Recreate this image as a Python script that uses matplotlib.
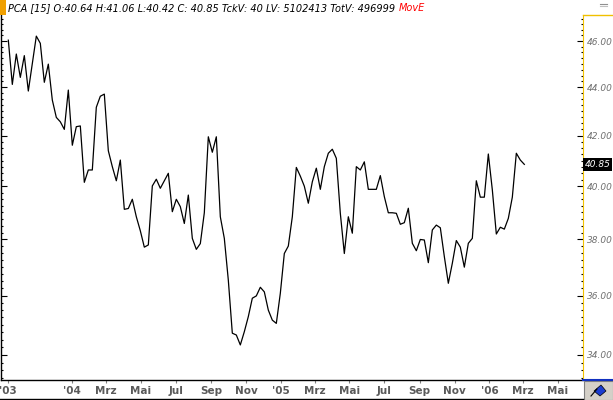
import matplotlib
matplotlib.use('Agg')
import matplotlib.pyplot as plt
from matplotlib.ticker import FixedLocator, NullFormatter
from matplotlib.patches import Rectangle, Polygon
from matplotlib.lines import Line2D
import numpy as np
import pandas as pd

# weekly closes
closes = [
    46.04, 44.12, 45.43, 44.42, 45.36, 43.84, 45.02, 46.22, 45.90, 44.21,
    44.99, 43.46, 42.74, 42.56, 42.25, 43.88, 41.61, 42.36, 42.39, 40.15,
    40.63, 40.63, 43.16, 43.62, 43.71, 41.39, 40.76, 40.21, 41.02, 39.12,
    39.15, 39.50, 38.84, 38.32, 37.72, 37.80, 40.01, 40.27, 39.92, 40.21,
    40.50, 39.03, 39.50, 39.22, 38.59, 39.66, 38.04, 37.64, 37.85, 38.99,
    41.95, 41.33, 41.95, 38.84, 38.04, 36.54, 34.72, 34.66, 34.33, 34.77,
    35.28, 35.91, 35.99, 36.29, 36.13, 35.50, 35.16, 35.05, 36.08, 37.49,
    37.76, 38.84, 40.73, 40.39, 40.00, 39.35, 40.17, 40.70, 39.88, 40.76,
    41.29, 41.45, 41.09, 38.97, 37.49, 38.84, 38.23, 40.76, 40.63, 40.95,
    39.88, 39.88, 39.88, 40.41, 39.60, 38.99, 38.99, 38.97, 38.56, 38.62,
    39.16, 37.86, 37.59, 38.00, 37.98, 37.16, 38.35, 38.53, 38.43, 37.38,
    36.43, 37.14, 37.96, 37.72, 37.00, 37.86, 38.04, 40.21, 39.58, 39.58,
    41.26, 39.86, 38.20, 38.45, 38.38, 38.78, 39.58, 41.29, 41.02, 40.85,
]
dates = pd.date_range('2003-09-12', periods=len(closes), freq='7D')

price_ticks = [34, 36, 38, 40, 42, 44, 46]
month_ticks = ['2004-01-01', '2004-03-01', '2004-05-01', '2004-07-01', '2004-09-01',
               '2004-11-01', '2005-01-01', '2005-03-01', '2005-05-01', '2005-07-01',
               '2005-09-01', '2005-11-01', '2006-01-01', '2006-03-01', '2006-05-01']
month_labels = ["'04", 'Mrz', 'Mai', 'Jul', 'Sep', 'Nov', "'05", 'Mrz', 'Mai',
                'Jul', 'Sep', 'Nov', "'06", 'Mrz', 'Mai']
first_label = "'03"
last_close = 40.85
header = 'PCA [15] O:40.64 H:41.06 L:40.42 C: 40.85 TckV: 40 LV: 5102413 TotV: 496999'
header_red = 'MovE'

W, H = 613, 400
fig = plt.figure(figsize=(W / 100, H / 100), dpi=100)
ax = fig.add_axes([1 / W, 20 / H, 581.5 / W, 365 / H])

ax.plot(dates, closes, color='black', lw=0.9)

ax.set_yscale('log')
ax.set_ylim(33.19, 47.17)
ax.set_xlim(dates[0] - pd.Timedelta(days=12.8), dates[0] + pd.Timedelta(days=1004.8))

# y axis on the right, italic grey labels
ax.yaxis.set_major_locator(FixedLocator(price_ticks))
ax.yaxis.set_minor_locator(FixedLocator(np.arange(33.25, 47.2, 0.25)))
ax.yaxis.set_minor_formatter(NullFormatter())
ax.set_yticklabels(['%.2f' % v for v in price_ticks], fontstyle='italic')
ax.tick_params(axis='y', which='both', direction='in', left=True, right=True,
               labelleft=False, labelright=True, labelsize=6.5,
               labelcolor='#707070', pad=3, width=0.8)
ax.tick_params(axis='y', which='major', length=4)
ax.tick_params(axis='y', which='minor', length=1.5)

# x axis: month labels
tick_pos = [dates[0]] + list(pd.to_datetime(month_ticks))
ax.set_xticks(tick_pos)
ax.set_xticklabels([first_label] + month_labels, fontweight='bold')
ax.tick_params(axis='x', direction='out', length=2, pad=2, labelsize=7.5,
               labelcolor='#5a5a5a', color='#808080', width=0.8)

ax.spines['top'].set_visible(False)
ax.spines['right'].set_color('#f0c000')
ax.spines['left'].set_linewidth(1)
ax.spines['bottom'].set_linewidth(1)

# last price box
ax.text(1 + 2 / 581.5, last_close, '%.2f' % last_close, transform=ax.get_yaxis_transform(),
        ha='left', va='center', fontsize=6.5, fontstyle='italic', color='white',
        bbox=dict(boxstyle='square,pad=0.2', fc='black', ec='none'))

# frame pieces around the label column and strip
fig.add_artist(Line2D([582.5 / W, 1], [1 - 15 / H] * 2, color='#f0c000', lw=1))
fig.add_artist(Line2D([583 / W, 1], [20 / H] * 2, color='#1030c0', lw=1.5))
fig.add_artist(Line2D([0, 583 / W], [1.5 / H] * 2, color='black', lw=1))
fig.add_artist(Rectangle((583.5 / W, 0), 29.5 / W, 19 / H, fc='#d4d0c8', ec='#808080', lw=0.8))
fig.add_artist(Polygon([[594 / W, 9 / H], [601 / W, 15 / H], [606 / W, 9 / H], [600 / W, 4 / H]],
                       closed=True, fc='#1a3cd0', ec='black', lw=0.5))
fig.add_artist(Line2D([591 / W, 597 / W], [4 / H, 11 / H], color='black', lw=0.8))
fig.add_artist(Line2D([600 / W, 607 / W], [1 - 4 / H] * 2, color='#909090', lw=0.8))
fig.add_artist(Line2D([600 / W, 607 / W], [1 - 6 / H] * 2, color='#c0c0c0', lw=0.8))

# header
fig.add_artist(Rectangle((0, 1 - 15 / H), 6 / W, 15 / H, fc='#f0a000', ec='none'))
t = fig.text(8 / W, 1 - 8 / H, header, ha='left', va='center', fontsize=7,
             fontstyle='italic', color='black')
fig.canvas.draw()
bb = t.get_window_extent()
fig.text((bb.x1 + 4) / W, 1 - 8 / H, header_red, ha='left', va='center', fontsize=7,
         fontstyle='italic', color='#ff0000')

fig.savefig('out.png', dpi=100)
